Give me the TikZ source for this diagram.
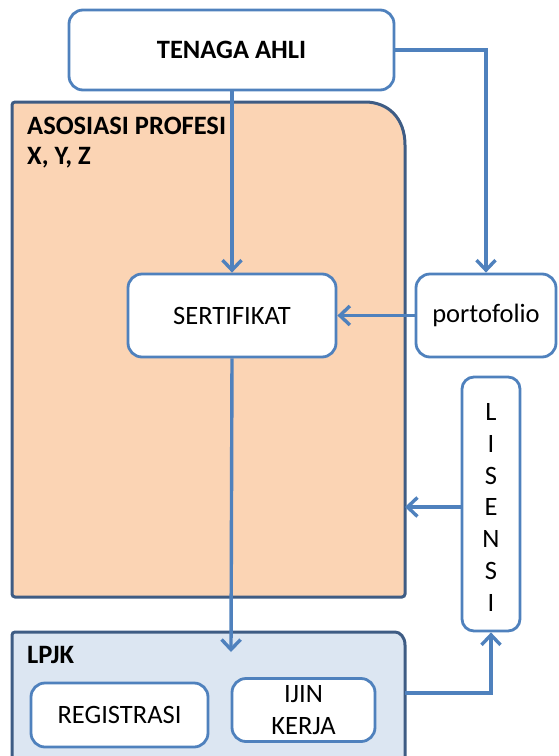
\documentclass[tikz,border=0pt]{standalone}
\usepackage{fontspec}
\setmainfont{Carlito}
\usetikzlibrary{arrows.meta}
\definecolor{nodeblue}{RGB}{79,129,189}
\definecolor{darkborder}{RGB}{62,92,132}
\definecolor{peach}{RGB}{251,212,180}
\definecolor{lightblue}{RGB}{220,230,242}
\tikzset{
  box/.style={draw=nodeblue, line width=2.8pt, fill=white, rounded corners=14pt, inner sep=0pt, font=\fontsize{26.5}{31}\selectfont},
  conn/.style={draw=nodeblue, line width=3.4pt, arrows={-Straight Barb[length=10pt,width=19pt,line width=3.4pt]}},
  title/.style={font=\fontsize{26.5}{31}\selectfont\bfseries, anchor=west, inner sep=0pt},
}
\begin{document}
\begin{tikzpicture}[x=1pt,y=-1pt]
\useasboundingbox (0,0) rectangle (558,756);
\clip (0,0) rectangle (558,756);
% ASOSIASI PROFESI container
\draw[darkborder, line width=3pt, fill=peach, rounded corners=3pt]
  (12,597) -- (12,102) -- (362,102) [sharp corners] .. controls (388,102) and (405,118) .. (405,145) [rounded corners=3pt] -- (405,597) -- cycle;
\node[title] (asos) at (27,126) {ASOSIASI PROFESI};
\node[title] (xyz) at (27,158) {X, Y, Z};
% LPJK container
\draw[darkborder, line width=3pt, fill=lightblue, rounded corners=3pt]
  (12,780) -- (12,632) -- (392,632) [sharp corners] .. controls (400,632) and (405,637) .. (405,645) -- (405,780);
\node[title] (lpjk) at (27,655) {LPJK};
% nodes
\node[box, minimum width=325pt, minimum height=80pt, font=\fontsize{26.5}{31}\selectfont\bfseries] (tenaga) at (231.5,50) {TENAGA AHLI};
\node[box, minimum width=208pt, minimum height=83pt] (sert) at (232,315.5) {SERTIFIKAT};
\node[box, minimum width=140pt, minimum height=83pt] (porto) at (486,315.5) {portofolio};
\node[box, minimum width=58pt, minimum height=254pt, rounded corners=12pt] (lis) at (491,504) {};
\foreach \ch [count=\i from 0] in {L,I,S,E,N,S,I}
  \node[font=\fontsize{26.5}{31}\selectfont, inner sep=0pt] (lis\i) at (491,412+31.8*\i) {\ch};
\node[box, minimum width=177pt, minimum height=64pt] (reg) at (119.5,715) {REGISTRASI};
\node[box, minimum width=143pt, minimum height=63pt, align=center, font=\fontsize{26.5}{32}\selectfont] (ijin) at (303.5,710) {IJIN\\KERJA};
% connectors
\coordinate (asosR) at (405,507);
\coordinate (lpjkTip) at (231,652);
\coordinate (lpjkR) at (405,693);
\draw[conn] (tenaga.south -| sert.north) -- (sert.north);
\draw[conn] (tenaga.east) -| (porto.north);
\draw[conn] (porto.west) -- (sert.east);
\draw[conn] (lis.west |- asosR) -- (asosR);
\draw[conn] (sert.south) -- (lpjkTip);
\draw[conn] (lpjkR) -| (lis.south);
\end{tikzpicture}
\end{document}
